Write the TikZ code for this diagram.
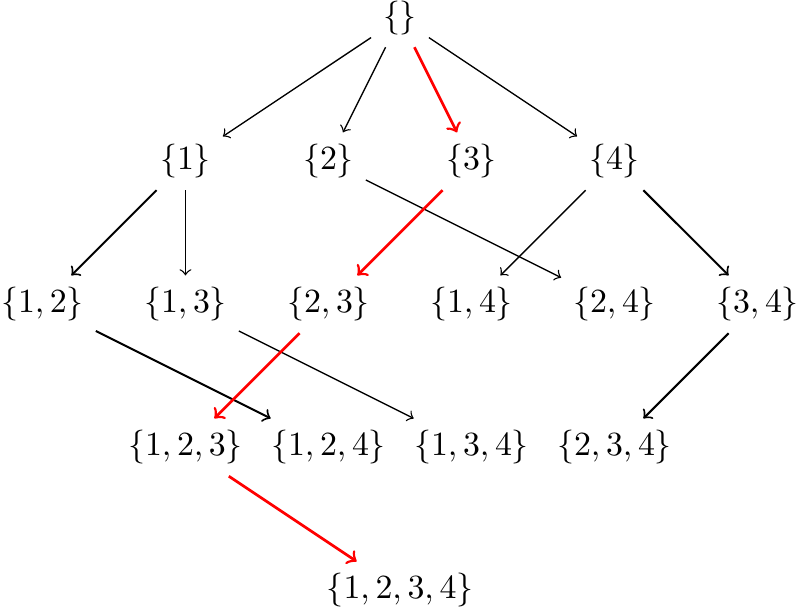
\documentclass[tikz,border=0pt]{standalone}
\begin{document}
\begin{tikzpicture}[x=1.484cm,y=1.484cm]
      \useasboundingbox (-2.797,0.128) rectangle (2.797,-4.131);

      \node (e) at (0,0) {\(\{\}\)};

      \node (s1) at (-1.5,-1) {\(\{1\}\)};
      \node (s2) at (-0.5,-1) {\(\{2\}\)};
      \node (s3) at (0.5,-1) {\(\{3\}\)};
      \node (s4) at (1.5,-1) {\(\{4\}\)};

      \node (s12) at (-2.5,-2) {\(\{1,2\}\)};
      \node (s13) at (-1.5,-2) {\(\{1,3\}\)};
      \node (s23) at (-0.5,-2) {\(\{2,3\}\)};
      \node (s14) at (0.5,-2) {\(\{1,4\}\)};
      \node (s24) at (1.5,-2) {\(\{2,4\}\)};
      \node (s34) at (2.5,-2) {\(\{3,4\}\)};

      \node (s123) at (-1.5,-3) {\(\{1,2,3\}\)};
      \node (s124) at (-0.5,-3) {\(\{1,2,4\}\)};
      \node (s134) at (0.5,-3) {\(\{1,3,4\}\)};
      \node (s234) at (1.5,-3) {\(\{2,3,4\}\)};

      \node (s1234) at (0,-4) {\(\{1,2,3,4\}\)};

      \foreach \a/\b in {e/s1,e/s2,e/s4,s1/s13,s2/s24,s4/s14,s13/s134}{
        \draw[->] (\a) -- (\b);
      }
      \foreach \a/\b in {s1/s12,s4/s34,s12/s124,s34/s234}{
        \draw[->,semithick] (\a) -- (\b);
      }

      % chain in red
      \draw[->, thick, red] (e) -- (s3);
      \draw[->, thick, red] (s3) -- (s23);
      \draw[->, thick, red] (s23) -- (s123);
      \draw[->, thick, red] (s123) -- (s1234);
    \end{tikzpicture}
\end{document}
